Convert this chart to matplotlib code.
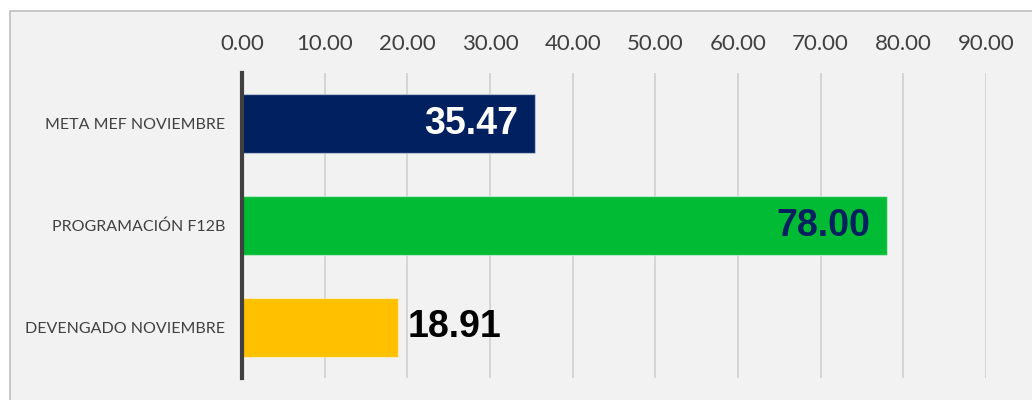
import matplotlib
matplotlib.use("Agg")
import matplotlib.pyplot as plt
from matplotlib.patches import Rectangle

categories = ["META MEF NOVIEMBRE", "PROGRAMACIÓN F12B", "DEVENGADO NOVIEMBRE"]
values = [35.47, 78.00, 18.91]
bar_colors = ["#002060", "#00BB33", "#FFC000"]
label_colors = ["white", "#002060", "black"]
label_inside = [True, True, False]
ticks = [0, 10, 20, 30, 40, 50, 60, 70, 80, 90]

fig = plt.figure(figsize=(10.32, 4.0), dpi=100)
fig.patch.set_facecolor("white")

# chart area background with border (open to the right/bottom)
bg = Rectangle((10 / 1032, -0.1), 1.2, (400 - 11) / 400 + 0.1,
               transform=fig.transFigure, facecolor="#F2F2F2",
               edgecolor="#BFBFBF", linewidth=1.2)
bg.set_zorder(-10)
fig.add_artist(bg)

ax = fig.add_axes([242 / 1032, 22 / 400, (986 - 242) / 1032, (378 - 73) / 400])
ax.set_facecolor("none")
ax.set_zorder(1)

ypos = list(range(len(categories)))
bars = ax.barh(ypos, values, height=0.58, color=bar_colors,
               edgecolor=(1, 1, 1, 0.45), linewidth=1.0, zorder=3)
ax.set_ylim(len(categories) - 0.5, -0.5)
ax.set_xlim(0, 90)

ax.set_xticks(ticks)
ax.set_xticklabels([f"{t:.2f}" for t in ticks], family="Lato", fontsize=16, color="#404040")
ax.xaxis.tick_top()
ax.tick_params(axis="x", length=0, pad=13.5)
ax.set_yticks(ypos)
ax.set_yticklabels(categories, family="Lato", fontsize=11.5, color="#404040")
ax.tick_params(axis="y", length=0, pad=12)

ax.grid(axis="x", color="#D0D0D0", linewidth=1.2, zorder=0)
for s in ["top", "right", "bottom"]:
    ax.spines[s].set_visible(False)
ax.spines["left"].set_color("#404040")
ax.spines["left"].set_linewidth(3)
ax.spines["left"].set_zorder(4)

for b, v, c, inside in zip(bars, values, label_colors, label_inside):
    y = b.get_y() + b.get_height() / 2
    if inside:
        ax.annotate(f"{v:.2f}", (v, y), xytext=(-12, 0), textcoords="offset points",
                    ha="right", va="center", color=c, fontsize=27,
                    fontweight="bold", family="Liberation Sans", zorder=5)
    else:
        ax.annotate(f"{v:.2f}", (v, y), xytext=(7, 0), textcoords="offset points",
                    ha="left", va="center", color=c, fontsize=27,
                    fontweight="bold", family="Liberation Sans", zorder=5)

fig.savefig("out.png", dpi=100)
